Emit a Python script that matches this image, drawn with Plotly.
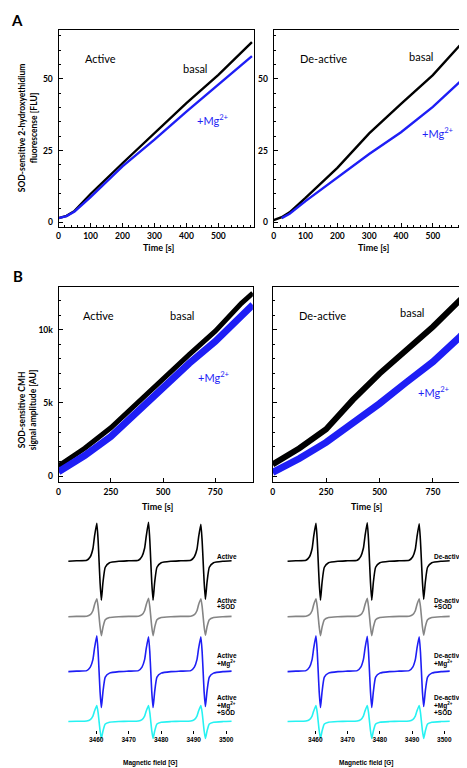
import plotly.graph_objects as go

##################################
# DATA
##################################

# A: SOD-sensitive 2-hydroxyethidium fluorescence [FLU]
a_time_act = [0, 25, 50, 100, 200, 300, 400, 500, 605]
a_basal_act = [1.5, 2.3, 4.0, 9.9, 20.6, 31.0, 41.5, 51.4, 62.8]
a_mg_act = [1.5, 2.2, 3.8, 8.8, 19.5, 28.8, 38.6, 47.9, 57.9]

a_time_deact = [0, 25, 50, 100, 200, 300, 400, 500, 600]
a_basal_deact = [0.8, 1.8, 3.5, 8.5, 19.0, 31.0, 41.3, 51.3, 63.5]
a_mg_deact = [None, 1.5, 3.0, 7.4, 15.6, 23.8, 31.4, 40.2, 50.5]

# B: SOD-sensitive CMH signal amplitude [AU]
b_time = [0, 125, 250, 375, 500, 625, 750, 875, 930]
b_basal_act = [700, 1900, 3300, 5000, 6700, 8300, 9900, 11800, 12500]
b_mg_act = [300, 1400, 2700, 4400, 6100, 7700, 9200, 11000, 11700]
b_basal_deact = [800, 1900, 3200, 5200, 7000, 8600, 10200, 12000, 12700]
b_mg_deact = [250, 1200, 2300, 3600, 4950, 6400, 7800, 9500, 10300]

# EPR spectra (magnetic field [G] vs. derivative signal, arbitrary units)
field = [3451.4, 3454.0,
         3457.1, 3458.2, 3459.0, 3459.5, 3460.2, 3460.6, 3460.9, 3461.2, 3461.6, 3462.1, 3462.8, 3464.1,
         3467.0, 3470.0,
         3473.0, 3474.1, 3474.9, 3475.4, 3476.1, 3476.5, 3476.8, 3477.1, 3477.5, 3478.0, 3478.7, 3480.0,
         3483.0, 3486.0,
         3489.1, 3490.2, 3491.0, 3491.5, 3492.2, 3492.6, 3492.9, 3493.2, 3493.6, 3494.1, 3494.8, 3496.1,
         3499.0, 3501.7]

epr_act = [0, 0.5,
           1, 4.5, 12.5, 25, 38, 21, 0, -21, -39, -21, -6, -1.5,
           0, 0.5,
           1, 5, 13, 25, 39, 21, 0, -21, -39, -21, -6, -1.5,
           0, 0.5,
           1, 4.5, 12, 24, 37, 20, 0, -20, -38, -21, -6, -1.5,
           0, 0.5]
epr_act_sod = [0, 0.3,
               0.5, 2, 6, 12, 18, 10, 0, -10, -19, -10.5, -3, -0.8,
               0, 0.3,
               0.5, 2, 6, 12, 18.5, 10, 0, -10, -19, -10.5, -3, -0.8,
               0, 0.3,
               0.5, 2, 6, 12, 18, 10, 0, -10, -18.5, -10, -3, -0.8,
               0, 0.3]
epr_act_mg = [0, 0.5,
              1, 4.5, 12, 23.5, 36, 20, 0, -20, -36, -20, -5.5, -1.5,
              0, 0.5,
              1, 4.5, 12, 23, 35, 19.5, 0, -20, -36, -20, -5.5, -1.5,
              0, 0.5,
              1, 4.5, 12, 23, 35, 19.5, 0, -20, -35, -19.5, -5.5, -1.5,
              0, 0.5]
epr_act_mg_sod = [0, 0.3,
                  0.5, 2, 5.5, 10.5, 16, 9, 0, -9, -17, -9.5, -2.5, -0.7,
                  0, 0.3,
                  0.5, 2, 5.5, 10.5, 16, 9, 0, -9, -17, -9.5, -2.5, -0.7,
                  0, 0.3,
                  0.5, 2, 5.5, 10.5, 16, 9, 0, -9, -17, -9.5, -2.5, -0.7,
                  0, 0.3]

epr_deact = [0, 0.5,
             1, 4.5, 12.5, 25, 38, 21, 0, -21, -39, -21, -6, -1.5,
             0, 0.5,
             1, 5, 13, 25, 38.5, 21, 0, -21, -39, -21, -6, -1.5,
             0, 0.5,
             1, 4.5, 12, 24, 37.5, 20, 0, -20, -38, -21, -6, -1.5,
             0, 0.5]
epr_deact_sod = [0, 0.3,
                 0.5, 2, 6, 12, 18, 10, 0, -10, -19, -10.5, -3, -0.8,
                 0, 0.3,
                 0.5, 2, 6, 12, 18.5, 10, 0, -10, -19, -10.5, -3, -0.8,
                 0, 0.3,
                 0.5, 2, 6, 12, 18, 10, 0, -10, -18.5, -10, -3, -0.8,
                 0, 0.3]
epr_deact_mg = [0, 0.5,
                1, 4.5, 12, 23.5, 36, 20, 0, -20, -36, -20, -5.5, -1.5,
                0, 0.5,
                1, 4.5, 12, 23, 35.5, 19.5, 0, -20, -36, -20, -5.5, -1.5,
                0, 0.5,
                1, 4.5, 12, 23, 35, 19.5, 0, -20, -35, -19.5, -5.5, -1.5,
                0, 0.5]
epr_deact_mg_sod = [0, 0.3,
                    0.5, 2, 5.5, 10.5, 16, 9, 0, -9, -17, -9.5, -2.5, -0.7,
                    0, 0.3,
                    0.5, 2, 5.5, 10.5, 16, 9, 0, -9, -17, -9.5, -2.5, -0.7,
                    0, 0.3,
                    0.5, 2, 5.5, 10.5, 16, 9, 0, -9, -17, -9.5, -2.5, -0.7,
                    0, 0.3]

field_ticks = [3460, 3470, 3480, 3490, 3500]

##################################
# STYLE
##################################

# the page body adds an 8px margin, so the figure starts at (8, 8) in the window
OX, OY = 8, 8
W, H = 459, 760
BLACK = "#000000"
BLUE = "#1e1ef5"
GRAY = "#858585"
CYAN = "#26f2f2"
FONT = "Lato, Liberation Sans, sans-serif"
NARROW = "Liberation Sans Narrow, Liberation Sans, sans-serif"


def fx(x):
    return (x - OX) / W


def fy(y):
    return 1 - (y - OY) / H


##########
# PLOTTING
##########

fig = go.Figure()


def line(x, y, xa, ya, color, width, shape="linear"):
    fig.add_trace(go.Scatter(x=x, y=y, xaxis=xa, yaxis=ya, mode="lines",
                             line=dict(color=color, width=width, shape=shape), hoverinfo="skip"))


line(a_time_act, a_basal_act, "x", "y", BLACK, 2.4)
line(a_time_act, a_mg_act, "x", "y", BLUE, 2.4)
line(a_time_deact, a_basal_deact, "x2", "y2", BLACK, 2.4)
line(a_time_deact, a_mg_deact, "x2", "y2", BLUE, 2.4)

line(b_time, b_basal_act, "x3", "y3", BLACK, 5)
line(b_time, b_mg_act, "x3", "y3", BLUE, 7)
line(b_time, b_basal_deact, "x4", "y4", BLACK, 6)
line(b_time, b_mg_deact, "x4", "y4", BLUE, 7)

spectra_left = [(epr_act, BLACK), (epr_act_sod, GRAY), (epr_act_mg, BLUE), (epr_act_mg_sod, CYAN)]
spectra_right = [(epr_deact, BLACK), (epr_deact_sod, GRAY), (epr_deact_mg, BLUE), (epr_deact_mg_sod, CYAN)]
for i, (vals, col) in enumerate(spectra_left):
    line(field, vals, "x5", "y" + str(5 + i), col, 1.6, "spline")
for i, (vals, col) in enumerate(spectra_right):
    line(field, vals, "x6", "y" + str(9 + i), col, 1.6, "spline")
for tr in fig.data:
    if tr.line.shape == "spline":
        tr.line.smoothing = 0.5

# empty traces so the field axes get their own (invisible) subplot row
fig.add_trace(go.Scatter(x=[], y=[], xaxis="x5", yaxis="y13", hoverinfo="skip"))
fig.add_trace(go.Scatter(x=[], y=[], xaxis="x6", yaxis="y14", hoverinfo="skip"))

tickfont = dict(family=FONT, size=8.5, color=BLACK, weight="bold")


def frame_axis(x0, x1, rng, anchor, tickvals, ticktext=None, minor=None, labels=True, mirror=True, standoff=3):
    ax = dict(domain=[x0, x1], range=rng, anchor=anchor, showgrid=False, zeroline=False,
              showline=True, linecolor=BLACK, linewidth=1.1, mirror=mirror,
              ticks="inside", ticklen=4, tickwidth=1, tickcolor=BLACK,
              tickmode="array", tickvals=tickvals, showticklabels=labels,
              tickfont=tickfont, ticklabelstandoff=standoff)
    if ticktext:
        ax["ticktext"] = ticktext
    if minor:
        ax["minor"] = dict(ticks="inside", ticklen=2, tickwidth=1, tickcolor=BLACK,
                           dtick=minor, tick0=0, showgrid=False)
    return ax


# panel geometry (window pixels)
a_top, a_bot = 30, 227
b_top, b_bot = 287, 483

layout = dict(
    xaxis=frame_axis(fx(57), fx(254), [0, 611], "y", [0, 100, 200, 300, 400, 500], minor=20, standoff=1),
    yaxis=frame_axis(fy(a_bot), fy(a_top), [-1.5, 67], "x", [0, 25, 50], minor=5),
    xaxis2=frame_axis(fx(274), 1, [0, 601], "y2", [0, 100, 200, 300, 400, 500], minor=20, standoff=1),
    yaxis2=frame_axis(fy(a_bot), fy(a_top), [-1.5, 67], "x2", [0, 25, 50], minor=5, mirror=False),
    xaxis3=frame_axis(fx(57), fx(253), [0, 930], "y3", [0, 250, 500, 750], standoff=1),
    yaxis3=frame_axis(fy(b_bot), fy(b_top), [-430, 12940], "x3", [0, 5000, 10000], ["0", "5k", "10k"], minor=1000),
    xaxis4=frame_axis(fx(273), 1, [0, 900], "y4", [0, 250, 500, 750], standoff=1),
    yaxis4=frame_axis(fy(b_bot), fy(b_top), [-430, 12940], "x4", [0, 5000, 10000], minor=1000, labels=False, mirror=False),
)

# EPR field axes: ticks and labels only, sitting on an empty row at y = 731 px
for xn, yn, x0, x1, rng in [("xaxis5", "yaxis13", 66.7, 231.7, [3451.4, 3501.7]),
                            ("xaxis6", "yaxis14", 286.7, 451.7, [3451.0, 3501.7])]:
    layout[xn] = dict(domain=[fx(x0), fx(x1)], range=rng, anchor="y" + yn[5:],
                      showline=False, showgrid=False, zeroline=False,
                      ticks="outside", ticklen=3, tickwidth=1, tickcolor=BLACK,
                      tickmode="array", tickvals=field_ticks,
                      tickfont=dict(family=NARROW, size=6.5, color=BLACK, weight="bold"))
    layout[yn] = dict(domain=[fy(731), fy(726)], range=[0, 1], anchor="x" + xn[5:], visible=False)

baselines = [562, 617.5, 672.5, 722.5]
for i, base in enumerate(baselines):
    for k, xa in [(5 + i, "x5"), (9 + i, "x6")]:
        layout["yaxis" + str(k)] = dict(domain=[fy(min(base + 45, 767.9)), fy(base - 45)],
                                        range=[-(min(base + 45, 767.9) - base), 45],
                                        anchor=xa, visible=False)

fig.update_layout(**layout)

##################################
# TEXT
##################################


def label(text, x, y, size=11, color=BLACK, bold=False, angle=0, xanchor="center", family=FONT):
    fig.add_annotation(text=text, x=fx(x), y=fy(y), xref="paper", yref="paper", showarrow=False,
                       xanchor=xanchor, yanchor="middle", textangle=angle,
                       font=dict(family=family, size=size, color=color, weight="bold" if bold else "normal"))


mg = "+Mg<sup>2+</sup>"

label("A", 15, 20, size=15, bold=True)
label("B", 16, 276, size=15, bold=True)

label("SOD-sensitive 2-hydroxyethidium<br>fluorescense [FLU]", 26.5, 128, size=8.5, bold=True, angle=-90)
label("SOD-sensitive CMH<br>signal amplitude [AU]", 26, 410, size=8.5, bold=True, angle=-90)

for x, y in [(158, 248), (375, 248), (157, 507), (368, 507)]:
    label("Time [s]", x, y, size=9, bold=True)
label("Magnetic field [G]", 150, 764, size=6.5, bold=True, family=NARROW)
label("Magnetic field [G]", 368, 764, size=6.5, bold=True, family=NARROW)

label("Active", 99, 59, size=11)
label("basal", 195, 69, size=11)
label(mg, 212.5, 120, size=11, color=BLUE)
label("De-active", 324, 59, size=11)
label("basal", 423, 57, size=11)
label(mg, 439.5, 133, size=11, color=BLUE)

label("Active", 97.5, 316, size=11)
label("basal", 181.7, 316, size=11)
label(mg, 214, 377, size=11, color=BLUE)
label("De-active", 323.5, 316, size=11)
label("basal", 413.5, 313, size=11)
label(mg, 436, 392, size=11, color=BLUE)

# spectrum labels, one annotation per text line
spec_lines = [
    [557],
    [601.5, 607.5],
    [656, 664],
    [698.5, 706.5, 713],
]
spec_texts = [
    ["{}"],
    ["{}", "+SOD"],
    ["{}", "+Mg<sup>2+</sup>"],
    ["{}", "+Mg<sup>2+</sup>", "+SOD"],
]
for name, x in [("Active", 215), ("De-active", 434)]:
    for ys, txts in zip(spec_lines, spec_texts):
        for y, t in zip(ys, txts):
            label(t.format(name), x, y, size=6.5, bold=True, xanchor="left", family=NARROW)

fig.update_layout(width=W, height=H, margin=dict(l=0, r=0, t=0, b=0), showlegend=False,
                  paper_bgcolor="white", plot_bgcolor="rgba(0,0,0,0)")

fig.write_html("out.html")
